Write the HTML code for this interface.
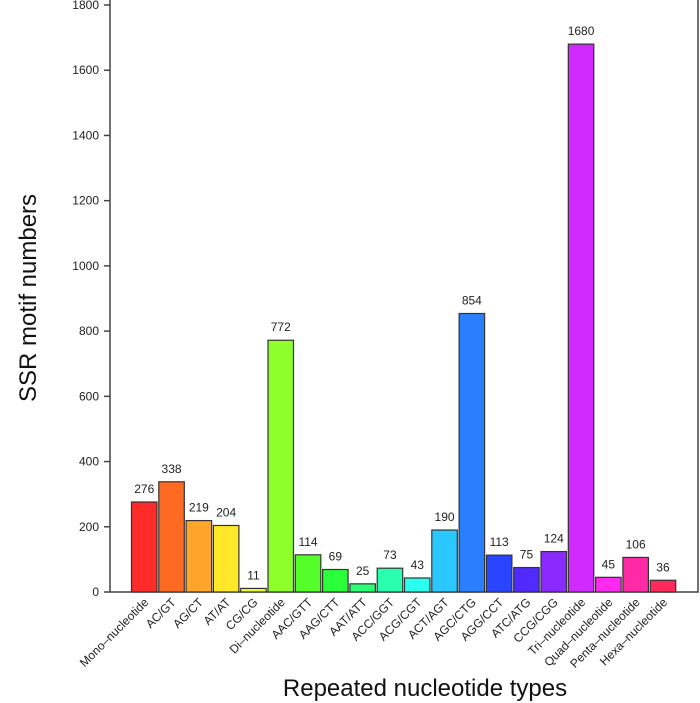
<!DOCTYPE html>
<html><head><meta charset="utf-8"><style>
body{margin:0;background:#fff;}
svg{display:block;font-family:"Liberation Sans",Arial,sans-serif;}
</style></head><body>
<svg id="chart" width="700" height="703"></svg>
<script>
const categories=["Mono–nucleotide","AC/GT","AG/CT","AT/AT","CG/CG","Di–nucleotide","AAC/GTT","AAG/CTT","AAT/ATT","ACC/GGT","ACG/CGT","ACT/AGT","AGC/CTG","AGG/CCT","ATC/ATG","CCG/CGG","Tri–nucleotide","Quad–nucleotide","Penta–nucleotide","Hexa–nucleotide"];
const values=[276,338,219,204,11,772,114,69,25,73,43,190,854,113,75,124,1680,45,106,36];
const colors=["#ff2a2a","#ff6a22","#ffa52a","#ffe82a","#e6ff2a","#8eff2a","#55ff2a","#2aff3a","#2aff75","#2affb0","#2affee","#2ac8ff","#2a7fff","#2a45ff","#502aff","#8a2aff","#d02aff","#ff2aef","#ff2aa5","#ff2a5a"];
const yTicks=[0,200,400,600,800,1000,1200,1400,1600,1800];
const NS="http://www.w3.org/2000/svg";
const svg=document.getElementById('chart');
const L=110,R=698,B=592,T=5,yMax=1800;
const y=v=>B-(v/yMax)*(B-T);
const step=27.3,x0=131.5,bw=25.5;
const x=i=>x0+i*step;
function mk(tag,attrs){const e=document.createElementNS(NS,tag);for(const k in attrs)e.setAttribute(k,attrs[k]);svg.appendChild(e);return e;}
const fr=mk('path',{d:`M${L},0 V${B} H${R} V0`,fill:'none',stroke:'#444','stroke-width':1.5});


yTicks.forEach(t=>{
  const tk=mk('line',{x1:L-6,x2:L,y1:y(t),y2:y(t),stroke:'#444','stroke-width':1.5});
  
  
  const tl=mk('text',{x:L-11,y:y(t)+4,'text-anchor':'end','font-size':12,fill:'#222'});
  tl.textContent=t;
  
  
});
categories.forEach((c,i)=>{
  const v=values[i];
  const r=mk('rect',{x:x(i),y:y(v),width:bw,height:B-y(v),fill:colors[i],stroke:'#333','stroke-width':1.2});
  
  
  const vl=mk('text',{x:x(i)+bw/2,y:y(v)-9,'text-anchor':'middle','font-size':12,fill:'#222'});
  vl.textContent=v;
  
  
  const cx=x(i)+bw/2+5,cy=B+11;
  const cl=mk('text',{x:cx,y:cy,'text-anchor':'end','font-size':12,fill:'#222',transform:`rotate(-45 ${cx} ${cy})`});
  cl.textContent=c;
  
  
});
const yt=mk('text',{x:36,y:298,'text-anchor':'middle','font-size':24,fill:'#111',transform:'rotate(-90 36 298)'});
yt.textContent='SSR motif numbers';


const xt=mk('text',{x:425,y:696,'text-anchor':'middle','font-size':24,fill:'#111'});
xt.textContent='Repeated nucleotide types';


</script>
</body></html>
